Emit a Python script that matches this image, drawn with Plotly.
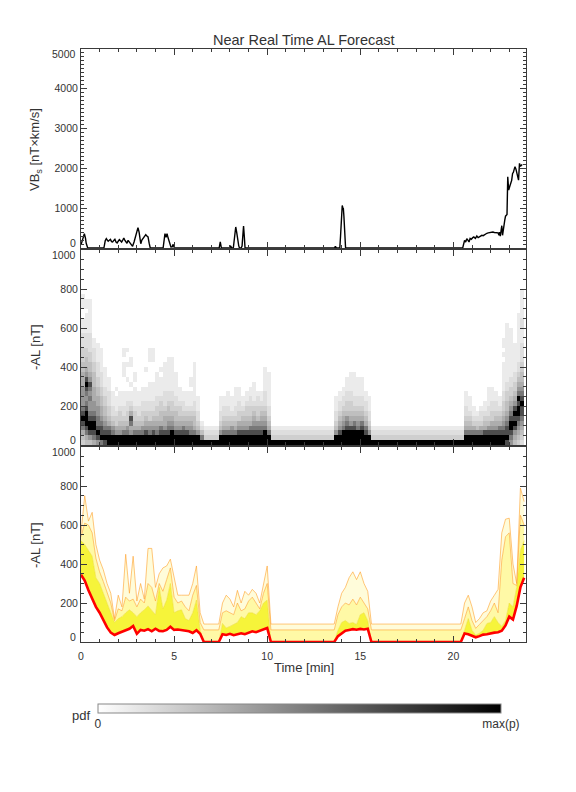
import plotly.graph_objects as go

# ---------------- data ----------------
# Top panel: VBs [nT x km/s] vs time [min]
VBS_T = [0.00, 0.08, 0.18, 0.24, 0.28, 0.36, 1.23, 1.30, 1.36, 1.46, 1.52, 1.58, 1.64, 1.70, 1.76,
         1.82, 1.88, 1.94, 2.00, 2.06, 2.12, 2.18, 2.24, 2.30, 2.36, 2.41, 2.47, 2.53, 2.59, 2.65,
         2.71, 2.77, 2.85, 2.92, 3.00, 3.06, 3.12, 3.18, 3.21, 3.27, 3.32, 3.40, 3.48, 3.54, 3.60,
         3.66, 3.72, 4.41, 4.46, 4.51, 4.57, 4.62, 4.68, 4.75, 4.83, 4.90, 4.95, 5.00, 5.03, 7.42,
         7.48, 7.54, 7.98, 8.04, 8.10, 8.18, 8.23, 8.28, 8.31, 8.36, 8.41, 8.47, 8.51, 8.60, 8.65,
         8.70, 8.73, 8.77, 8.81, 13.62, 13.66, 13.72, 13.90, 13.94, 13.97, 14.00, 14.03, 14.07,
         14.09, 14.12, 14.15, 14.18, 14.21, 20.50, 20.55, 20.60, 20.66, 20.72, 20.78, 20.84, 20.90,
         20.96, 21.04, 21.10, 21.18, 21.26, 21.33, 21.40, 21.47, 21.53, 21.60, 21.67, 21.73, 21.80,
         21.87, 21.93, 22.00, 22.12, 22.20, 22.32, 22.40, 22.45, 22.48, 22.52, 22.56, 22.60, 22.64,
         22.68, 22.72, 22.76, 22.80, 22.85, 22.88, 22.92, 22.97, 23.03, 23.08, 23.13, 23.18, 23.22,
         23.28, 23.31, 23.36, 23.40, 23.45, 23.50, 23.55, 23.60, 23.65, 23.70]
VBS_V = [80, 200, 360, 250, 120, 0, 0, 180, 235, 168, 200, 218, 160, 151, 190,
         218, 150, 126, 170, 210, 180, 151, 200, 252, 190, 151, 120, 193, 150, 109,
         80, 42, 150, 300, 450, 512, 400, 200, 109, 200, 235, 300, 336, 300, 277,
         120, 0, 0, 200, 361, 270, 361, 250, 109, 25, 30, 92, 20, 0, 0,
         151, 0, 0, 42, 0, 0, 277, 450, 529, 400, 193, 60, 0, 0, 50,
         350, 554, 300, 0, 0, 42, 0, 0, 300, 697, 950, 1067, 1000,
         991, 800, 529, 200, 0, 0, 150, 193, 151, 235, 200, 151, 240,
         220, 260, 277, 240, 300, 260, 280, 300, 319, 310, 340, 361, 370,
         380, 386, 390, 403, 390, 395, 380, 320, 400, 300, 445, 560, 319,
         500, 613, 700, 800, 823, 840, 1790, 1454, 1550, 1617, 1700, 1874, 1900,
         2000, 2042, 1980, 1915, 1800, 1706, 2127, 2050, 2080, 2100]

# Middle panel: pdf of -AL. One string per 0.2-min column, one character per 25-nT bin
# counted upward from 0 nT ('.' = empty, '1'..'9' = grey level, see GREY_LEVEL).
QUIET = "9321"
HEAT_COLS = [
    "3457898766" "6655544333" "222111..111",
    "4578999876" "7898654433" "2221111.11",
    "4689987667" "6786544332" "2221111111",
    "5789987665" "5544433222" "11",
    "6898776655" "4433222111" "1",
    "7988765544" "3322211111",
    "8987654433" "221111",
    "9987543322" "2111",
    "9976432211" "1",
    "9965332111" ".1",
    "9965433211" "1",
    "9975432211" "1...111.11",
    "9976433221" "1..1..1..1",
    "9965785321" "1.1...11",
    "9975433211" "11.11",
    "9975432211" "1",
    "9976433221" "11",
    "9986543221" "11...1",
    "9976533221" "111....111",
    "9986543221" "111....111",
    "9976543322" "11111",
    "9987544332" "1111.1",
    "9986554322" "2111111",
    "9987654432" "21111111",
    "9997654332" "21111111",
    "9986544322" "11111",
    "9986543321" "11",
    "9987543221" "1",
    "9986543211" "1",
    "9976543211" "1.11",
    "9975443221" "1111111",
    "9964322111",
    "97421",
] + [QUIET] * 4 + [
    "9964322111",
    "9975432211",
    "9975432211" "1",
    "9976432111",
    "9975432211" "11",
    "9986533221" "11",
    "9986543211",
    "9986543321" "1",
    "9987543322" "11",
    "9987654321" "111",
    "9987643322" "1",
    "9987654321" "1",
    "9997654322" "211111",
    "9975432211" "11111",
] + [QUIET] * 17 + [
    "9964322111",
    "9986543221" "1",
    "9997654322" "11",
    "9998764332" "2111",
    "9998654332" "21111",
    "9998754322" "11111",
    "9997654322" "1111",
    "9998754322" "1111",
    "9987543221" "1",
    "9964322111",
] + [QUIET] * 25 + [
    "9975432211" "1",
    "9975432111",
    "99753211",
    "9974321",
    "99753221",
    "998543211",
    "9986432211" "11",
    "9986533221" "11",
    "9986543221" "1",
    "9987543211",
    "9987654332" "2111111.1." "11",
    "8988765443" "3221111111" "11111",
    "6789987654" "3322111111" "1111",
    "4568989865" "4332211111" "1",
    "3456789989" "7654322111" "1111111",
    "2345678898" "7654433222" "2111221111" "11",
]
GREY_LEVEL = {"1": 0.08, "2": 0.13, "3": 0.19, "4": 0.25, "5": 0.32,
              "6": 0.41, "7": 0.53, "8": 0.7, "9": 1.0}
HEAT_T = [round(0.1 + 0.2 * k, 2) for k in range(len(HEAT_COLS))]   # column centres [min]
AL_BINS = [12.5 + 25 * j for j in range(32)]                           # bin centres [nT]

# Bottom panel: forecast quantiles of -AL on a 0.2-min grid
BAND_T = [round(0.2 * k, 1) for k in range(120)]
MEDIAN = [345, 315, 265, 225, 180, 150, 110, 75, 48, 36,
          45, 52, 58, 68, 82, 42, 62, 58, 66, 55,
          68, 57, 55, 62, 78, 62, 64, 62, 58, 55,
          46, 60, 42, 0, 0, 0, 0, 0, 40, 36,
          42, 35, 40, 45, 40, 48, 55, 50, 58, 62,
          72, 0, 0, 0, 0, 0, 0, 0, 0, 0,
          0, 0, 0, 0, 0, 0, 0, 0, 0, 30,
          45, 58, 62, 66, 63, 67, 64, 68, 0, 0,
          0, 0, 0, 0, 0, 0, 0, 0, 0, 0,
          0, 0, 0, 0, 0, 0, 0, 0, 0, 0,
          0, 0, 0, 44, 40, 32, 24, 30, 38, 40,
          45, 48, 50, 58, 85, 130, 115, 185, 280, 330]
Q_LOW = [520, 500, 470, 440, 330, 300, 250, 200, 150, 100,
         120, 130, 150, 165, 150, 130, 150, 165, 185, 160,
         140, 280, 170, 215, 300, 150, 160, 165, 120, 110,
         150, 215, 60, 0, 0, 0, 0, 0, 95, 72,
         80, 90, 100, 130, 120, 150, 150, 140, 160, 200,
         215, 0, 0, 0, 0, 0, 0, 0, 0, 0,
         0, 0, 0, 0, 0, 0, 0, 0, 0, 60,
         100, 110, 95, 100, 90, 140, 150, 110, 0, 0,
         0, 0, 0, 0, 0, 0, 0, 0, 0, 0,
         0, 0, 0, 0, 0, 0, 0, 0, 0, 0,
         0, 0, 0, 60, 120, 60, 35, 45, 60, 95,
         100, 130, 100, 80, 110, 200, 180, 280, 470, 520]
Q_MID = [540, 610, 600, 560, 430, 360, 310, 250, 200, 110,
         170, 160, 230, 210, 220, 180, 220, 200, 300, 280,
         210, 300, 260, 320, 380, 230, 200, 210, 180, 160,
         240, 290, 100, 62, 62, 62, 62, 62, 150, 160,
         150, 140, 200, 160, 170, 210, 230, 200, 170, 250,
         300, 62, 62, 62, 62, 62, 62, 62, 62, 62,
         62, 62, 62, 62, 62, 62, 62, 62, 62, 140,
         180, 200, 190, 220, 190, 230, 200, 170, 62, 62,
         62, 62, 62, 62, 62, 62, 62, 62, 62, 62,
         62, 62, 62, 62, 62, 62, 62, 62, 62, 62,
         62, 62, 62, 120, 180, 110, 70, 90, 110, 130,
         160, 200, 150, 420, 540, 560, 300, 290, 650, 600]
Q_HIGH = [560, 750, 620, 665, 500, 420, 370, 300, 250, 120,
          240, 180, 450, 250, 440, 210, 300, 220, 480, 480,
          280, 350, 380, 390, 425, 330, 240, 240, 240, 240,
          300, 390, 150, 92, 92, 92, 92, 92, 200, 240,
          220, 180, 265, 200, 260, 240, 270, 250, 200, 300,
          390, 92, 92, 92, 92, 92, 92, 92, 92, 92,
          92, 92, 92, 92, 92, 92, 92, 92, 92, 180,
          250, 280, 330, 360, 320, 360, 300, 260, 92, 92,
          92, 92, 92, 92, 92, 92, 92, 92, 92, 92,
          92, 92, 92, 92, 92, 92, 92, 92, 92, 92,
          92, 92, 92, 200, 240, 180, 100, 120, 150, 160,
          210, 240, 270, 560, 630, 635, 400, 300, 790, 720]

X_TICKS = [0, 5, 10, 15, 20]
VBS_TICKS = [0, 1000, 2000, 3000, 4000, 5000]
AL_TICKS = [0, 200, 400, 600, 800, 1000]
CB_TICKS = ["0", "max(p)"]

# ---------------- figure ----------------
FONT = "Liberation Sans"
TXT = "#333333"
AX = "#3a3a3a"
TICK_SIZE = 10.5

fig = go.Figure()

fig.add_trace(go.Scatter(x=VBS_T, y=VBS_V, mode="lines", line=dict(color="black", width=1.4),
                         xaxis="x", yaxis="y", showlegend=False, hoverinfo="skip"))

z = []
for j in range(len(AL_BINS)):
    row = []
    for col in HEAT_COLS:
        c = col[j] if j < len(col) else "."
        row.append(None if c == "." else GREY_LEVEL[c])
    z.append(row)

fig.add_trace(go.Heatmap(
    x=HEAT_T, y=AL_BINS, z=z, xaxis="x2", yaxis="y2",
    colorscale=[[0, "white"], [1, "black"]], zmin=0, zmax=1, hoverinfo="skip",
    colorbar=dict(orientation="h", x=0.4908, xanchor="center", y=-0.124, yanchor="middle",
                  len=403, lenmode="pixels", thickness=9, thicknessmode="pixels",
                  tickvals=[0, 1], ticktext=CB_TICKS, ticks="", xpad=0, ypad=0,
                  outlinecolor="#888888", outlinewidth=1,
                  tickfont=dict(family=FONT, size=12, color=TXT))))

band_line = dict(color="rgba(255,160,40,0.75)", width=0.8)
fig.add_trace(go.Scatter(x=BAND_T, y=MEDIAN, mode="lines", line=dict(width=0, color="rgba(0,0,0,0)"),
                         xaxis="x3", yaxis="y3", showlegend=False, hoverinfo="skip"))
fig.add_trace(go.Scatter(x=BAND_T, y=Q_LOW, mode="lines", fill="tonexty", fillcolor="#F6F43A",
                         line=dict(color="rgba(235,220,40,0.9)", width=0.6),
                         xaxis="x3", yaxis="y3", showlegend=False, hoverinfo="skip"))
fig.add_trace(go.Scatter(x=BAND_T, y=Q_MID, mode="lines", fill="tonexty", fillcolor="#FFF9A6",
                         line=band_line, xaxis="x3", yaxis="y3", showlegend=False, hoverinfo="skip"))
fig.add_trace(go.Scatter(x=BAND_T, y=Q_HIGH, mode="lines", fill="tonexty", fillcolor="#FFFCDA",
                         line=band_line, xaxis="x3", yaxis="y3", showlegend=False, hoverinfo="skip"))
fig.add_trace(go.Scatter(x=BAND_T, y=MEDIAN, mode="lines", line=dict(color="#FF0000", width=2.6),
                         xaxis="x3", yaxis="y3", showlegend=False, hoverinfo="skip"))


def xax(anchor, labels):
    return dict(domain=[0, 1], range=[0, 23.9], anchor=anchor, showline=True, linecolor=AX,
                linewidth=1, mirror="allticks", ticks="inside", ticklen=6, tickcolor=AX,
                tickvals=X_TICKS, showticklabels=labels, showgrid=False, zeroline=False,
                ticklabelstandoff=4,
                minor=dict(dtick=1, ticks="inside", ticklen=3, tickcolor=AX),
                tickfont=dict(family=FONT, size=TICK_SIZE, color=TXT))


def yax(anchor, dom, rng, ticks, mdt):
    # end labels sit on the frame and are drawn separately (IDL pulls them inward)
    inner = ticks[1:-1]
    return dict(domain=dom, range=rng, anchor=anchor, showline=True, linecolor=AX, linewidth=1,
                mirror="allticks", ticks="inside", ticklen=6, tickcolor=AX,
                tickvals=inner, ticktext=[str(v) for v in inner], showgrid=False, zeroline=False,
                minor=dict(dtick=mdt, ticks="inside", ticklen=3, tickcolor=AX),
                tickfont=dict(family=FONT, size=TICK_SIZE, color=TXT))


fig.update_layout(
    width=568, height=784, autosize=False,
    margin=dict(l=73, r=50, t=41, b=150),
    paper_bgcolor="white", plot_bgcolor="white",
    font=dict(family=FONT, size=11, color=TXT),
    xaxis=xax("y", False), xaxis2=xax("y2", False), xaxis3=xax("y3", True),
    yaxis=yax("x", [0.6644, 1.0], [0, 5000], VBS_TICKS, 100),
    yaxis2=yax("x2", [0.3322, 0.661], [0, 1000], AL_TICKS, 50),
    yaxis3=yax("x3", [0.0, 0.3288], [0, 1000], AL_TICKS, 50),
    showlegend=False,
)

# end-of-axis tick labels, nudged inward as in the reference
for yref, ticks in (("y", VBS_TICKS), ("y2", AL_TICKS), ("y3", AL_TICKS)):
    for v, shift in ((ticks[0], 5), (ticks[-1], -5)):
        fig.add_annotation(text=str(v), x=0, xref="paper", y=v, yref=yref, xanchor="right",
                           yanchor="middle", xshift=-3, yshift=shift, showarrow=False,
                           font=dict(family=FONT, size=TICK_SIZE, color=TXT))

ann = [
    dict(text="Near Real Time AL Forecast", x=0.5, y=1.0152, size=14.5, angle=0),
    dict(text="VB<sub>s</sub> [nT×km/s]", x=-0.101, y=0.8297, size=13, angle=-90),
    dict(text="-AL [nT]", x=-0.101, y=0.4975, size=13, angle=-90),
    dict(text="-AL [nT]", x=-0.101, y=0.1636, size=13, angle=-90),
    dict(text="Time [min]", x=0.5, y=-0.0438, size=13, angle=0),
    dict(text="pdf", x=0.0, y=-0.1233, size=13, angle=0),
]
for a in ann:
    fig.add_annotation(text=a["text"], x=a["x"], y=a["y"], xref="paper", yref="paper",
                       xanchor="center", yanchor="middle", showarrow=False, textangle=a["angle"],
                       font=dict(family=FONT, size=a["size"], color=TXT))

fig.write_html("out.html")
